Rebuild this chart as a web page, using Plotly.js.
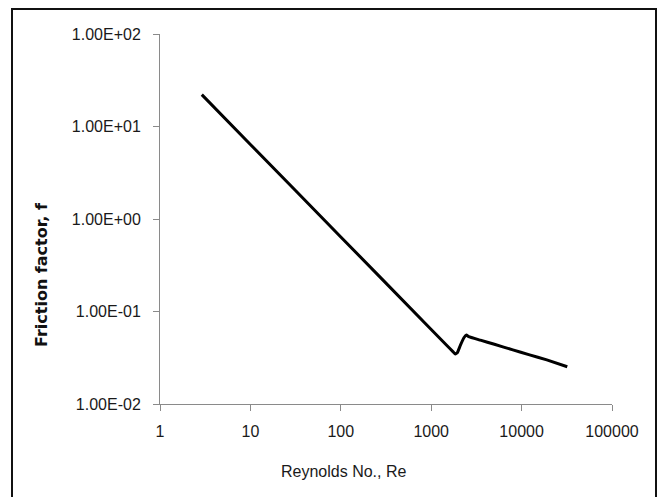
<!DOCTYPE html>
<html>
<head>
<meta charset="utf-8">
<script src="https://cdn.plot.ly/plotly-3.0.1.min.js"></script>
<style>
html,body{margin:0;padding:0;background:#fff;}
#chart{width:662px;height:497px;}
</style>
</head>
<body>
<div id="chart"></div>
<script>
// Reynolds number (x) and friction factor (y)
const reynolds = [2.9, 10, 100, 1000, 1500, 1750, 1850, 1950, 2100, 2300, 2450, 2600, 3500, 5000, 8000, 12000, 19000, 32000];
const friction = [22.1, 6.4, 0.64, 0.064, 0.0427, 0.0366, 0.0347, 0.036, 0.043, 0.052, 0.0557, 0.0535, 0.049, 0.0442, 0.0385, 0.0342, 0.030, 0.0253];

const xTickVals = [1, 10, 100, 1000, 10000, 100000];
const xTickText = ["1", "10", "100", "1000", "10000", "100000"];
const yTickVals = [0.01, 0.1, 1, 10, 100];
const yTickText = ["1.00E-02", "1.00E-01", "1.00E+00", "1.00E+01", "1.00E+02"];

const xTitle = "Reynolds No., Re";
const yTitle = "Friction factor, f";

const W = 662, H = 497;
const L = 160, R = 50, T = 34, B = 93;
const pw = W - L - R, ph = H - T - B;
function px(x) { return (x - L) / pw; }
function py(y) { return (H - B - y) / ph; }

const tickFont = {family: "'Liberation Sans', Arial, sans-serif", size: 16, color: '#1a1a1a'};

const trace = {
  x: reynolds, y: friction, type: 'scatter', mode: 'lines',
  line: {color: '#000000', width: 3, shape: 'spline', smoothing: 0.3},
  hoverinfo: 'skip'
};

const layout = {
  width: W, height: H,
  margin: {l: L, r: R, t: T, b: B, pad: 0},
  paper_bgcolor: '#ffffff', plot_bgcolor: '#ffffff',
  showlegend: false,
  xaxis: {
    type: 'log', range: [0, 5], tickvals: xTickVals, ticktext: xTickText,
    showgrid: false, zeroline: false, showline: true, linecolor: '#8a8a8a', linewidth: 1,
    ticks: 'outside', ticklen: 6, tickcolor: '#8a8a8a', tickwidth: 1,
    tickfont: tickFont, ticklabelstandoff: 7, fixedrange: true
  },
  yaxis: {
    type: 'log', range: [-2, 2], tickvals: yTickVals, ticktext: yTickText,
    showgrid: false, zeroline: false, showline: true, linecolor: '#8a8a8a', linewidth: 1,
    ticks: 'outside', ticklen: 6, tickcolor: '#8a8a8a', tickwidth: 1,
    tickfont: tickFont, ticklabelstandoff: 9, fixedrange: true
  },
  annotations: [
    {text: xTitle, xref: 'paper', yref: 'paper', x: px(343), y: py(472), xanchor: 'center', yanchor: 'middle',
     showarrow: false, font: {family: "'Liberation Sans', Arial, sans-serif", size: 16, color: '#1a1a1a'}},
    {text: yTitle, xref: 'paper', yref: 'paper', x: px(41), y: py(274), xanchor: 'center', yanchor: 'middle',
     textangle: -90, showarrow: false, font: {family: "'DejaVu Sans', sans-serif", size: 16, color: '#111111', weight: 'bold'}}
  ],
  shapes: [
    {type: 'rect', xref: 'paper', yref: 'paper', x0: px(12), x1: px(656), y0: py(520), y1: py(9),
     line: {color: '#111111', width: 2}, fillcolor: 'rgba(0,0,0,0)', layer: 'below'}
  ]
};

Plotly.newPlot('chart', [trace], layout, {displayModeBar: false, staticPlot: true});
</script>
</body>
</html>
